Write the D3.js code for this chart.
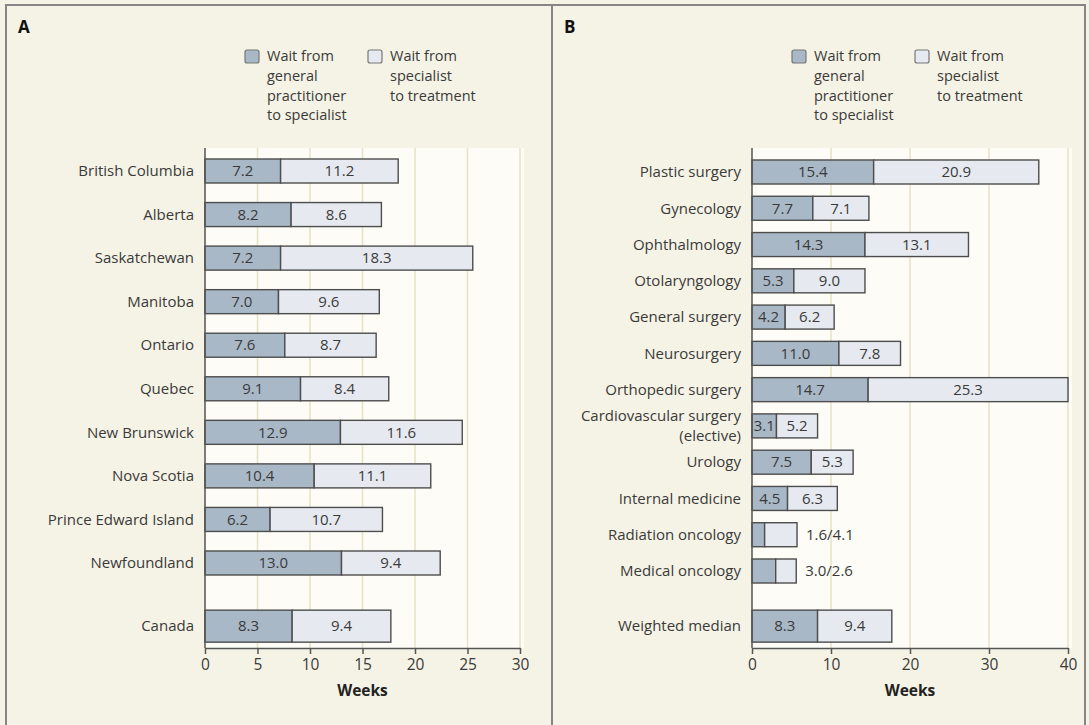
<!DOCTYPE html>
<html>
<head>
<meta charset="utf-8">
<script src="https://cdn.jsdelivr.net/npm/d3@7"></script>
<style>
  body { margin: 0; background: #f5f3e6; }
  svg { display: block; font-family: "Open Sans", sans-serif; }
</style>
</head>
<body>
<svg id="chart" width="1089" height="725"></svg>
<script>
// Panel A: provinces
var provinces = ["British Columbia", "Alberta", "Saskatchewan", "Manitoba", "Ontario", "Quebec",
  "New Brunswick", "Nova Scotia", "Prince Edward Island", "Newfoundland", "Canada"];
var provGpToSpec = [7.2, 8.2, 7.2, 7.0, 7.6, 9.1, 12.9, 10.4, 6.2, 13.0, 8.3];
var provSpecToTreat = [11.2, 8.6, 18.3, 9.6, 8.7, 8.4, 11.6, 11.1, 10.7, 9.4, 9.4];
var ticksA = [0, 5, 10, 15, 20, 25, 30];

// Panel B: specialties
var specialties = ["Plastic surgery", "Gynecology", "Ophthalmology", "Otolaryngology", "General surgery",
  "Neurosurgery", "Orthopedic surgery", "Cardiovascular surgery\n(elective)", "Urology",
  "Internal medicine", "Radiation oncology", "Medical oncology", "Weighted median"];
var specGpToSpec = [15.4, 7.7, 14.3, 5.3, 4.2, 11.0, 14.7, 3.1, 7.5, 4.5, 1.6, 3.0, 8.3];
var specSpecToTreat = [20.9, 7.1, 13.1, 9.0, 6.2, 7.8, 25.3, 5.2, 5.3, 6.3, 4.1, 2.6, 9.4];
var ticksB = [0, 10, 20, 30, 40];

var legendLabels = [["Wait from", "general", "practitioner", "to specialist"],
                    ["Wait from", "specialist", "to treatment"]];

var darkFill = "#a9b8c7", lightFill = "#e6eaf0", barStroke = "#4d4d4d";
var textCol = "#3a3a3a";
var fmt = d3.format(".1f");

var svg = d3.select("#chart");

// frame
svg.append("rect").attr("x", 0).attr("y", 0).attr("width", 1089).attr("height", 725).attr("fill", "#f5f3e5");
svg.append("rect").attr("x", 6).attr("y", 5).attr("width", 1079).attr("height", 740)
  .attr("fill", "none").attr("stroke", "#858585").attr("stroke-width", 2);
svg.append("line").attr("x1", 552).attr("x2", 552).attr("y1", 5).attr("y2", 725)
  .attr("stroke", "#858585").attr("stroke-width", 2);

function drawPanel(opts) {
  var g = svg.append("g");
  var n = opts.cats.length;
  var top = 148, axisY = 648;

  var x = d3.scaleLinear().domain([0, opts.ticks[opts.ticks.length - 1]]).range([opts.x0, opts.x1]);
  // last row (summary) sits after a wider gap
  var y = d3.scaleLinear().domain([0, n - 2]).range([opts.firstY, opts.lastY]);
  var rowY = function(i) { return i === n - 1 ? y(n - 2 + opts.gap) : y(i); };

  // panel letter
  g.append("text").attr("x", opts.letterX).attr("y", 33)
    .attr("font-size", 17).attr("font-weight", "bold").attr("fill", "#111").text(opts.letter);

  // legend
  var legX = [opts.x0 + 40, opts.x0 + 163];
  [darkFill, lightFill].forEach(function(c, k) {
    g.append("rect").attr("x", legX[k]).attr("y", 50).attr("width", 14).attr("height", 13)
      .attr("rx", 2).attr("fill", c).attr("stroke", "#777").attr("stroke-width", 1.2);
    g.append("text").attr("x", legX[k] + 22).attr("font-size", 14.5).attr("fill", textCol)
      .selectAll("tspan").data(legendLabels[k]).enter().append("tspan")
      .attr("x", legX[k] + 22).attr("y", function(d, j) { return 56 + j * 19.8; })
      .attr("dy", "0.35em").text(function(d) { return d; });
  });

  // plot background and grid
  g.append("rect").attr("x", opts.x0).attr("y", top).attr("width", opts.x1 - opts.x0 + 4)
    .attr("height", axisY - top).attr("fill", "#fdfcf7");
  g.selectAll(".grid").data(opts.ticks.slice(1)).enter().append("line")
    .attr("x1", d => x(d)).attr("x2", d => x(d)).attr("y1", top).attr("y2", axisY)
    .attr("stroke", "#e7e2c6").attr("stroke-width", 1.5);

  // bars
  var rows = g.selectAll(".row").data(opts.cats).enter().append("g");
  var bh = function(i) { return i === n - 1 ? 32 : 24; };
  rows.append("rect").attr("x", x(0))
    .attr("y", (d, i) => rowY(i) - bh(i) / 2).attr("height", (d, i) => bh(i))
    .attr("width", (d, i) => x(opts.gp[i]) - x(0))
    .attr("fill", darkFill).attr("stroke", barStroke).attr("stroke-width", 1.4);
  rows.append("rect").attr("x", (d, i) => x(opts.gp[i]))
    .attr("y", (d, i) => rowY(i) - bh(i) / 2).attr("height", (d, i) => bh(i))
    .attr("width", (d, i) => x(opts.gp[i] + opts.sp[i]) - x(opts.gp[i]))
    .attr("fill", lightFill).attr("stroke", barStroke).attr("stroke-width", 1.4);

  // value labels
  rows.each(function(d, i) {
    var r = d3.select(this), a = opts.gp[i], b = opts.sp[i];
    if (a + b < 7) {
      r.append("text").attr("x", x(a + b) + 9).attr("y", rowY(i)).attr("dy", "0.35em")
        .attr("font-size", 15).attr("fill", textCol).text(fmt(a) + "/" + fmt(b));
    } else {
      r.append("text").attr("x", (x(0) + x(a)) / 2).attr("y", rowY(i)).attr("dy", "0.35em")
        .attr("text-anchor", "middle").attr("font-size", 15).attr("fill", textCol).text(fmt(a));
      r.append("text").attr("x", (x(a) + x(a + b)) / 2).attr("y", rowY(i)).attr("dy", "0.35em")
        .attr("text-anchor", "middle").attr("font-size", 15).attr("fill", textCol).text(fmt(b));
    }
    // category label
    var lines = d.split("\n");
    var t = r.append("text").attr("text-anchor", "end").attr("font-size", 15).attr("fill", textCol);
    lines.forEach(function(s, j) {
      t.append("tspan").attr("x", opts.x0 - 11)
        .attr("y", rowY(i) + (j - (lines.length - 1) / 2) * 20.6).attr("dy", "0.35em").text(s);
    });
  });

  // y axis line
  g.append("line").attr("x1", x(0)).attr("x2", x(0)).attr("y1", top).attr("y2", axisY)
    .attr("stroke", "#555").attr("stroke-width", 1.5);

  // x axis
  var ax = g.append("g").attr("transform", "translate(0," + axisY + ")")
    .call(d3.axisBottom(x).tickValues(opts.ticks).tickSize(6).tickPadding(5).tickSizeOuter(0));
  ax.select(".domain").attr("stroke", "#555").attr("stroke-width", 1.5);
  ax.selectAll(".tick line").attr("stroke", "#555").attr("stroke-width", 1.5);
  ax.selectAll(".tick text").attr("font-size", 15.5).attr("fill", textCol)
    .attr("font-family", "'Open Sans', sans-serif");

  g.append("text").attr("x", (opts.x0 + opts.x1) / 2).attr("y", 691).attr("dy", "0.35em")
    .attr("text-anchor", "middle").attr("font-size", 15.5).attr("font-weight", "bold")
    .attr("fill", "#222").text("Weeks");
}

drawPanel({ letter: "A", letterX: 18, cats: provinces, gp: provGpToSpec, sp: provSpecToTreat,
  ticks: ticksA, x0: 205, x1: 520, firstY: 171, lastY: 563, gap: 1.45 });
drawPanel({ letter: "B", letterX: 564, cats: specialties, gp: specGpToSpec, sp: specSpecToTreat,
  ticks: ticksB, x0: 752, x1: 1068, firstY: 172, lastY: 571, gap: 1.52 });
</script>
</body>
</html>
